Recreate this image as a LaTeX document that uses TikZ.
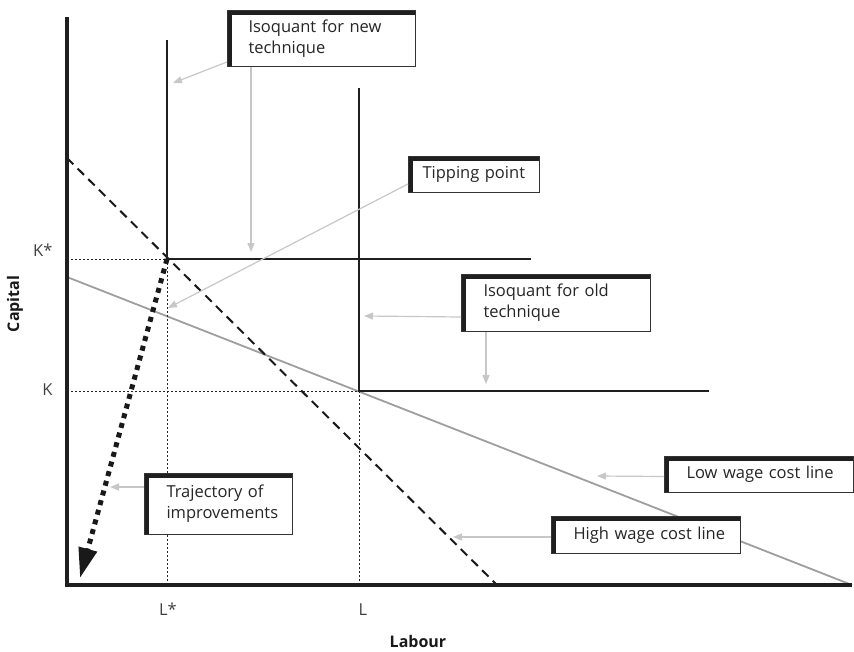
\documentclass[tikz,border=0pt]{standalone}
\usepackage{fontspec}
\setmainfont{Open Sans}
\usetikzlibrary{arrows.meta}

\tikzset{
	axis/.style={line width=3.2pt, draw=black!88},
	isoquant/.style={line width=2.8pt, draw=black!88},
	guide/.style={line width=1pt, dash pattern=on 2pt off 2pt, draw=black!85},
	highcost/.style={line width=2pt, dash pattern=on 9pt off 6pt, draw=black!90},
	lowcost/.style={line width=1.8pt, draw=black!38},
	pointer/.style={line width=1.2pt, draw=black!22, -{Triangle[length=9pt,width=7pt,fill=black!22]}},
	trajectory/.style={line width=5pt, dash pattern=on 5pt off 5pt, draw=black!90, -{Triangle[length=30pt,width=18pt]}},
	labelbox/.style={draw=black!80, line width=1pt, fill=white, anchor=north west, align=left,
		inner ysep=0pt, text=black!85, font=\fontsize{16.5}{21}\selectfont,
		path picture={\draw[line width=8pt, black!88] (path picture bounding box.south west)
			-- (path picture bounding box.north west) -- (path picture bounding box.north east);}},
	ticklabel/.style={font=\fontsize{16.5}{18}\selectfont, text=black!75},
	axislabel/.style={font=\fontsize{16}{18}\selectfont\bfseries, text=black!90}
}

\begin{document}
\begin{tikzpicture}[x=1pt, y=-1pt]
	\useasboundingbox (0,0) rectangle (854,651);

	\coordinate (O) at (67,585);
	\coordinate (ytop) at (67,17);
	\coordinate (xend) at (852,585);
	\coordinate (Kstar) at (67,259);
	\coordinate (K) at (67,391);
	\coordinate (Lstar) at (167,585);
	\coordinate (L) at (359,585);
	\coordinate (newcorner) at (167,259);
	\coordinate (oldcorner) at (359,391);

	% cost lines
	\draw[lowcost] (67,277) -- (852,585);
	\draw[highcost] (67,158) -- (497,585);

	% guides to the axes
	\draw[guide] (Kstar) -- (newcorner) -- (Lstar);
	\draw[guide] (K) -- (oldcorner) -- (L);

	% isoquants
	\draw[isoquant] (167,40) -- (newcorner) -- (531,259);
	\draw[isoquant] (359,88) -- (oldcorner) -- (709,391);

	\draw[axis] (ytop) -- (O) -- (xend);

	\coordinate (trajtip) at (80,578);
	\draw[trajectory] (newcorner) -- (trajtip);

	% labels
	\node[ticklabel, anchor=east] (kstarlab) at (56,250) {K*};
	\node[ticklabel, anchor=east] (klab) at (56,390) {K};
	\node[ticklabel] (lstarlab) at (168,609) {L*};
	\node[ticklabel] (llab) at (363,610) {L};
	\node[axislabel, rotate=90] (capitallab) at (15,304) {Capital};
	\node[axislabel] (labourlab) at (418,641) {Labour};

	% boxes
	\node[labelbox, inner xsep=21pt, text width=146pt, minimum height=56pt] (newiso) at (227,10) {Isoquant for new\\technique};
	\node[labelbox, inner xsep=14pt, text width=103pt, minimum height=36pt] (tipping) at (408,156) {Tipping~point};
	\node[labelbox, inner xsep=22pt, text width=145pt, minimum height=57pt] (oldiso) at (461,274) {Isoquant for old\\technique};
	\node[labelbox, inner xsep=22pt, text width=104pt, minimum height=61pt] (traj) at (144,473) {Trajectory of\\improvements};
	\node[labelbox, inner xsep=22pt, text width=145pt, minimum height=36pt] (lowwage) at (664,456) {Low~wage~cost~line};
	\node[labelbox, inner xsep=22pt, text width=145pt, minimum height=37pt] (highwage) at (551,516) {High~wage~cost~line};

	% pointers
	\coordinate (newleft) at (173,83);
	\coordinate (newdown) at (251,252);
	\coordinate (tipend) at (168,308);
	\coordinate (oldleft) at (364,316);
	\coordinate (olddown) at (486,384);
	\coordinate (trajend) at (110,487);
	\coordinate (lowend) at (597,476);
	\coordinate (highend) at (453,537);
	\draw[pointer] ([yshift=5]newiso.south west) -- (newleft);
	\draw[pointer] ([xshift=24]newiso.south west) -- (newdown);
	\draw[pointer] ([yshift=9]tipping.south west) -- (tipend);
	\draw[pointer] ([yshift=15]oldiso.south west) -- (oldleft);
	\draw[pointer] ([xshift=25]oldiso.south west) -- (olddown);
	\draw[pointer] ([yshift=-14]traj.north west) -- (trajend);
	\draw[pointer] ([yshift=-2]lowwage.west) -- (lowend);
	\draw[pointer] ([yshift=-2]highwage.west) -- (highend);
\end{tikzpicture}
\end{document}
